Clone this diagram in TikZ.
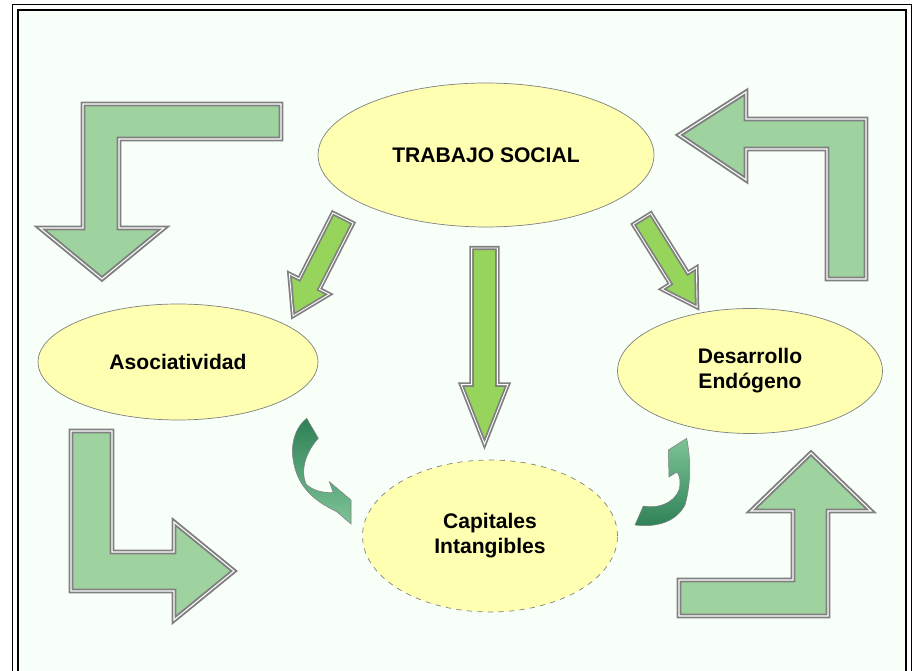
\documentclass[tikz,border=0pt]{standalone}
\usepackage{fontspec}
\setmainfont{Liberation Sans}
\usepackage{tikz}
\usetikzlibrary{shapes, arrows, positioning}

\definecolor{paperbg}{RGB}{248,255,248}
\definecolor{ovalfill}{RGB}{255,255,178}
\definecolor{lgreen}{RGB}{158,210,158}
\definecolor{bgreen}{RGB}{150,212,92}
\definecolor{swdark}{RGB}{46,128,86}
\definecolor{swlight}{RGB}{125,196,152}

\begin{document}
\begin{tikzpicture}[
        x=0.02cm, y=-0.02cm,
        oval/.style={ellipse, draw=black!50, fill=ovalfill, align=center, inner sep=0pt, font=\fontsize{12}{14.2}\selectfont\bfseries},
        elbow/.style={draw=black!50, line width=1.1pt, double=white, double distance=0.6pt, fill=lgreen, line join=miter},
        shaft/.style={single arrow, anchor=tail, draw=black!50, line width=1pt, double=white, double distance=0.5pt, fill=bgreen, single arrow head indent=0pt, inner xsep=0pt, outer sep=0pt},
        swirl/.style={draw=black!50, line width=0.3pt}
    ]
        \clip (0,0) rectangle (913,671);

        % Frame
        \fill[paperbg] (18,10) rectangle (906,690);
        \draw[line width=1.1pt] (12.5,4.5) rectangle (911.5,700);
        \draw[line width=1.6pt] (18,10) rectangle (906,700);

        % Ovals
        \node[oval, minimum width=6.72cm, minimum height=2.88cm] (trabajo) at (486,155) {TRABAJO SOCIAL};
        \node[oval, minimum width=5.6cm, minimum height=2.32cm] (asoc) at (178,362) {Asociatividad};
        \node[oval, minimum width=5.3cm, minimum height=2.5cm] (desarrollo) at (750,371) {Desarrollo \\ Endógeno};
        \node[oval, dashed, minimum width=5.1cm, minimum height=3.04cm] (capitales) at (490,536) {Capitales \\ Intangibles};

        % Straight arrows
        \node[shaft, rotate=-117, minimum height=2.2cm, inner ysep=0.21cm, single arrow head extend=0.22cm, single arrow tip angle=64] (toasoc) at (343,218) {};
        \node[shaft, rotate=-90, minimum height=3.92cm, inner ysep=0.24cm, single arrow head extend=0.21cm, single arrow tip angle=43] (tocap) at (484.5,248) {};
        \node[shaft, rotate=-58, minimum height=2.08cm, inner ysep=0.19cm, single arrow head extend=0.2cm, single arrow tip angle=62] (todes) at (642,219) {};

        % Corner arrows
        \draw[elbow] (281,104) -- (83,104) -- (83,228) -- (40,228) -- (102,279) -- (164,228) -- (119,228) -- (119,139) -- (281,139) -- cycle;
        \draw[elbow] (679,135) -- (746,92) -- (746,119) -- (866,119) -- (866,279) -- (827,279) -- (827,149) -- (746,149) -- (746,180) -- cycle;
        \draw[elbow] (71,431) -- (112,431) -- (112,552) -- (174,552) -- (174,522) -- (234,571) -- (174,620) -- (174,591) -- (71,591) -- cycle;
        \draw[elbow] (811,453) -- (871,511) -- (828,511) -- (828,616) -- (679,616) -- (679,580) -- (793,580) -- (793,511) -- (751,511) -- cycle;

        % Curved arrows
        \draw[swirl, top color=swdark, bottom color=swlight]
            (306.7,418.3) -- (318.3,438.3)
            .. controls (306,452) and (300,470) .. (306,484)
            .. controls (312,490) and (322,493) .. (333.3,492.7)
            -- (329.3,481.7) -- (351,500) -- (351,524) -- (336.7,511.7)
            .. controls (312,500) and (296,485) .. (292.7,456.7)
            .. controls (291,440) and (297,426) .. cycle;
        \draw[swirl, top color=swlight, bottom color=swdark]
            (635,525) -- (643.3,506)
            .. controls (658,509) and (674,503) .. (679,490)
            .. controls (681,482) and (680,476) .. (677,472)
            -- (669,477) -- (668.3,450) -- (686.7,438.3)
            .. controls (690,455) and (692,480) .. (685,505)
            .. controls (677,520) and (660,528) .. cycle;
    \end{tikzpicture}
\end{document}
